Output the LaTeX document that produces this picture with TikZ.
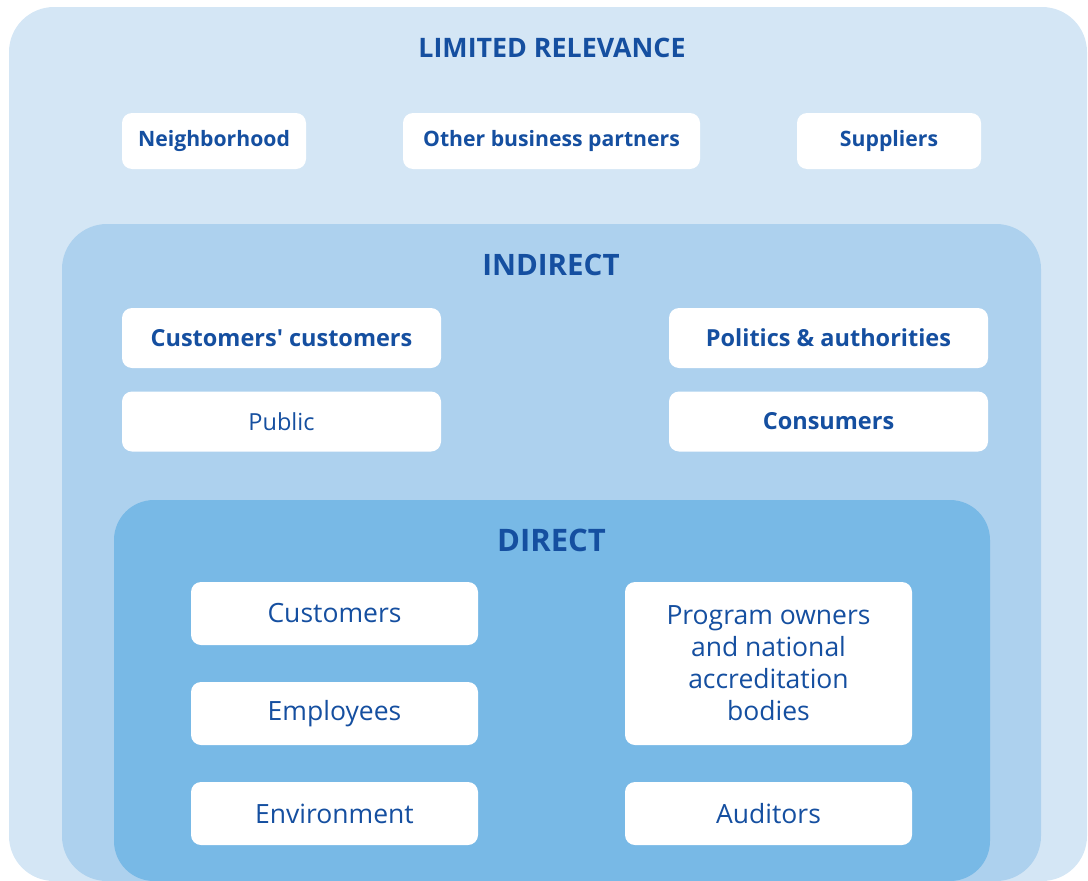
\documentclass[tikz,border=0pt]{standalone}
\usepackage{fontspec}
\setmainfont{Open Sans}
\definecolor{outerc}{HTML}{D4E6F5}
\definecolor{midc}{HTML}{ADD1EE}
\definecolor{innerc}{HTML}{78B9E6}
\definecolor{txtc}{HTML}{154FA0}
\begin{document}
\begin{tikzpicture}[x=1pt,y=-1pt,
  wbox/.style={fill=white,draw=none,rounded corners=10pt,text=txtc,align=center,inner sep=0pt},
  title/.style={text=txtc,inner sep=0pt,anchor=base},
  lrow/.style={wbox,font=\fontsize{21.2}{25}\selectfont\bfseries,minimum height=56pt},
  irow/.style={wbox,minimum width=319pt,minimum height=60pt},
  drow/.style={wbox,font=\fontsize{26.5}{32}\selectfont,minimum width=287pt,minimum height=63pt}]
\useasboundingbox (0,0) rectangle (1088,881);
\fill[outerc,rounded corners=45pt] (9,7) rectangle (1087,881);
\fill[midc,rounded corners=45pt] (62,224) rectangle (1041,881);
\fill[innerc,rounded corners=40pt] (114,500) rectangle (990,881);

\node[title,font=\fontsize{26.8}{30}\selectfont\bfseries] (tl) at (552,57) {LIMITED RELEVANCE};
\node[lrow,minimum width=184pt] (n1) at (214,141) {Neighborhood};
\node[lrow,minimum width=297pt] (n2) at (551.5,141) {Other business partners};
\node[lrow,minimum width=184pt] (n3) at (889,141) {Suppliers};

\node[title,font=\fontsize{29.5}{33}\selectfont\bfseries] (ti) at (551,275.7) {INDIRECT};
\node[irow,font=\fontsize{23.5}{28}\selectfont\bfseries] (i1) at (281.5,338) {Customers\textquotesingle{} customers};
\node[irow,font=\fontsize{23.5}{28}\selectfont] (i2) at (281.5,421.5) {Public};
\node[irow,font=\fontsize{23.5}{28}\selectfont\bfseries] (i3) at (828.5,338) {Politics \& authorities};
\node[irow,font=\fontsize{23.5}{28}\selectfont\bfseries] (i4) at (828.5,421.5) {Consumers};

\node[title,font=\fontsize{31}{35}\selectfont\bfseries] (td) at (551.5,551) {DIRECT};
\node[drow] (d1) at (334.5,613.5) {Customers};
\node[drow] (d2) at (334.5,713.5) {Employees};
\node[drow] (d3) at (334.5,813.5) {Environment};
\node[drow,minimum height=163pt] (d4) at (768.5,663.5) {Program owners\\and national\\accreditation\\bodies};
\node[drow] (d5) at (768.5,813.5) {Auditors};
\end{tikzpicture}
\end{document}
